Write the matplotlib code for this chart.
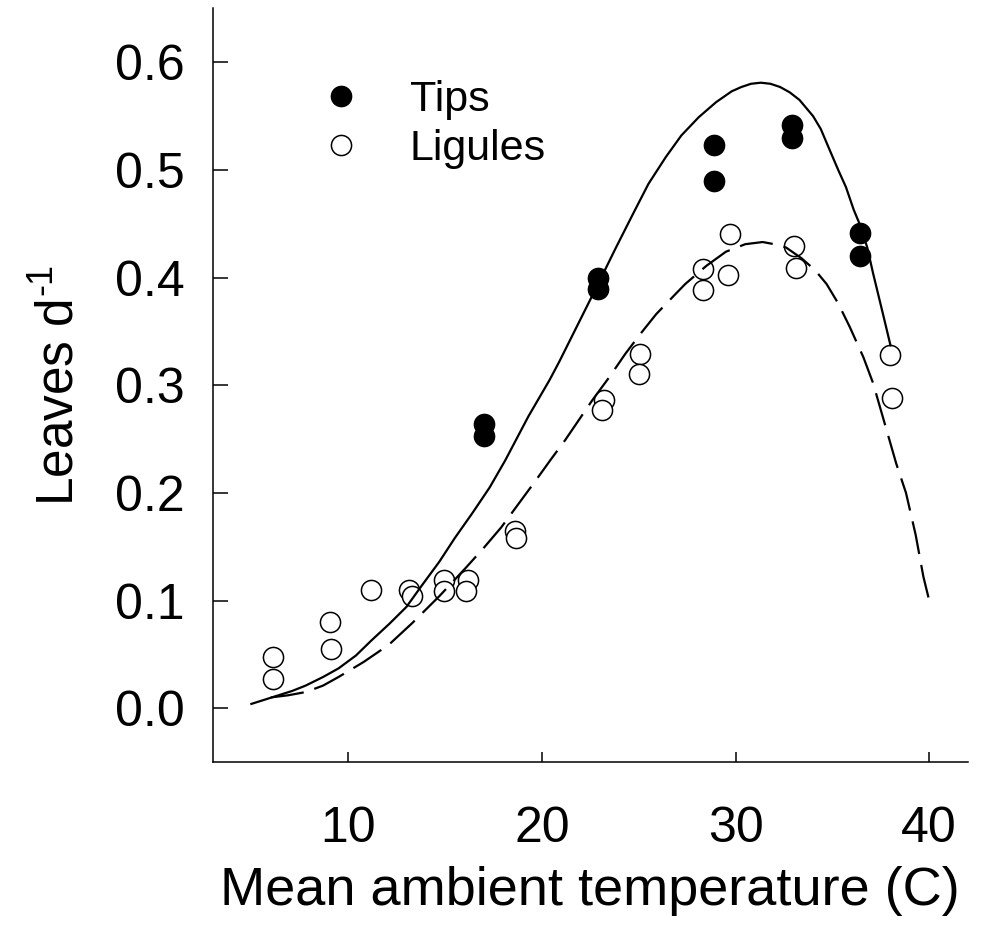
import matplotlib
matplotlib.use("Agg")
import matplotlib.pyplot as plt
from matplotlib.lines import Line2D

plt.rcParams['font.family'] = ['Liberation Sans', 'DejaVu Sans']
plt.rcParams['mathtext.fontset'] = 'custom'
plt.rcParams['mathtext.rm'] = 'Liberation Sans'

# Observed data: Tips (filled) and Ligules (open)
tips_temp = [17.0, 17.0, 22.9, 22.9, 28.9, 28.9, 32.9, 32.9, 36.4, 36.4]
tips_rate = [0.264, 0.253, 0.400, 0.389, 0.523, 0.490, 0.542, 0.530, 0.441, 0.420]

lig_temp = [6.1, 6.1, 9.05, 9.1, 11.2, 13.15, 13.3, 14.96, 14.96, 16.2, 16.1,
            18.6, 18.65, 23.2, 23.1, 25.05, 25.0, 28.3, 28.3, 29.6, 29.7,
            33.0, 33.1, 38.0, 38.07]
lig_rate = [0.048, 0.027, 0.080, 0.055, 0.110, 0.110, 0.104, 0.119, 0.109, 0.119, 0.109,
            0.165, 0.158, 0.286, 0.277, 0.329, 0.310, 0.408, 0.388, 0.402, 0.440,
            0.429, 0.409, 0.328, 0.288]

# Fitted curves
tips_fit_temp = [5.0, 5.7, 6.4, 7.1, 7.8, 8.7, 9.5, 10.4, 11.2, 12.1, 13.0, 13.8, 14.7,
                 15.5, 16.4, 17.3, 18.1, 19.3, 20.4, 20.9, 21.9, 22.9, 23.8, 24.7,
                 25.5, 26.4, 27.2, 28.1, 29.0, 29.8, 30.3, 30.8, 31.3, 31.8, 32.3,
                 32.8, 33.3, 34.0, 34.4, 34.8, 35.3, 35.7, 36.1, 36.4, 36.8, 37.1,
                 37.6, 38.0]
tips_fit_rate = [0.004, 0.008, 0.012, 0.016, 0.021, 0.029, 0.037, 0.049, 0.063, 0.078,
                 0.094, 0.114, 0.136, 0.158, 0.181, 0.205, 0.230, 0.271, 0.305, 0.322,
                 0.358, 0.394, 0.427, 0.459, 0.487, 0.512, 0.532, 0.549, 0.563, 0.573,
                 0.577, 0.580, 0.581, 0.580, 0.577, 0.572, 0.565, 0.550, 0.538, 0.521,
                 0.500, 0.484, 0.463, 0.450, 0.428, 0.404, 0.367, 0.337]

lig_fit_temp = [6.0, 6.9, 7.8, 8.7, 9.5, 10.8, 12.1, 13.3, 14.7, 16.1, 17.0, 17.9,
                18.8, 19.7, 20.5, 21.2, 22.6, 23.5, 24.3, 25.1, 25.9, 26.7, 27.4,
                28.5, 29.5, 30.5, 31.4, 32.0, 32.6, 33.4, 34.1, 34.7, 35.3, 35.9,
                36.6, 37.1, 37.5, 38.3, 38.8, 39.3, 39.7, 40.0]
lig_fit_rate = [0.010, 0.012, 0.015, 0.021, 0.029, 0.043, 0.059, 0.079, 0.104, 0.131,
                0.149, 0.168, 0.190, 0.212, 0.232, 0.249, 0.286, 0.308, 0.329, 0.348,
                0.366, 0.381, 0.394, 0.411, 0.424, 0.431, 0.433, 0.431, 0.428, 0.418,
                0.407, 0.394, 0.376, 0.354, 0.326, 0.302, 0.277, 0.227, 0.200, 0.161,
                0.122, 0.100]

x_ticks = [10, 20, 30, 40]
y_ticks = [0.0, 0.1, 0.2, 0.3, 0.4, 0.5, 0.6]
y_tick_labels = ['0.0', '0.1', '0.2', '0.3', '0.4', '0.5', '0.6']

fig = plt.figure(figsize=(9.82, 9.35), dpi=100)
ax = fig.add_axes([0.2166, 0.185, 0.9857 - 0.2166, 0.991 - 0.185])

ms = 14.5
ax.plot(tips_temp, tips_rate, 'o', ms=ms, mfc='black', mec='black', mew=1.1,
        zorder=2, linestyle='none')
ax.plot(lig_temp, lig_rate, 'o', ms=ms, mfc='white', mec='black', mew=1.1,
        zorder=3, linestyle='none')
ax.plot(tips_fit_temp, tips_fit_rate, '-', color='black', lw=1.6, zorder=4)
ax.plot(lig_fit_temp, lig_fit_rate, color='black', lw=1.6, dashes=(15, 5), zorder=4)

ax.set_xlim(3, 42)
ax.set_ylim(-0.05, 0.65)
ax.set_xticks(x_ticks)
ax.set_yticks(y_ticks)
ax.set_yticklabels(y_tick_labels)

for s in ['top', 'right']:
    ax.spines[s].set_visible(False)
for s in ['left', 'bottom']:
    ax.spines[s].set_linewidth(1.1)

ax.tick_params(axis='y', direction='in', length=11, width=1.1, labelsize=36, pad=20)
ax.tick_params(axis='x', direction='in', length=7.5, width=1.1, labelsize=36, pad=32)

ax.set_xlabel('Mean ambient temperature (C)', fontsize=39, labelpad=10)
ax.set_ylabel('Leaves d$^{\u2010\\mathregular{1}}$', fontsize=37, labelpad=22)

handles = [Line2D([], [], marker='o', ms=ms, mfc='black', mec='black', mew=1.1, ls='none'),
           Line2D([], [], marker='o', ms=ms, mfc='white', mec='black', mew=1.1, ls='none')]
ax.legend(handles, ['Tips', 'Ligules'], loc='upper left', frameon=False, fontsize=31,
          bbox_to_anchor=(0.121, 0.928), handlelength=0.9, handletextpad=1.15,
          labelspacing=0.21, borderaxespad=0)

fig.savefig('out.png', dpi=100)
